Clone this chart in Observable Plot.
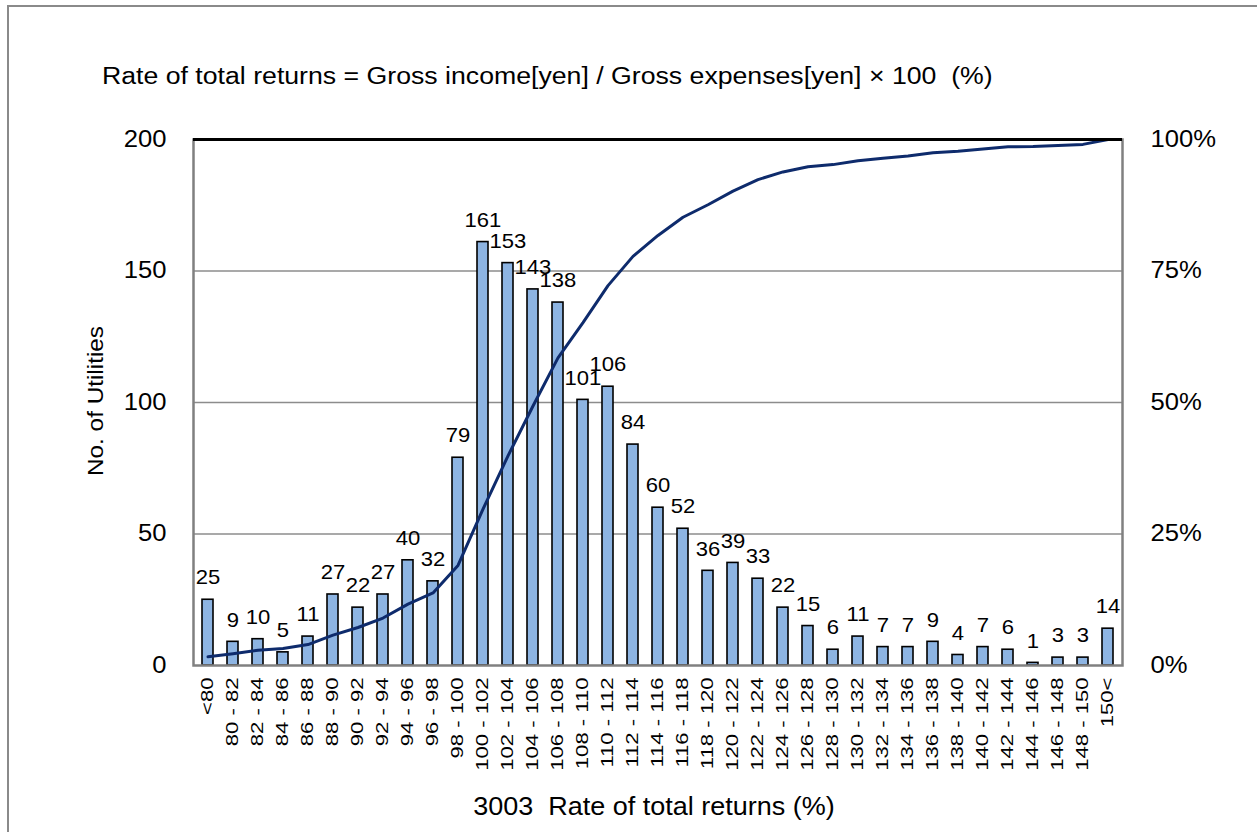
<!DOCTYPE html>
<html>
<head>
<meta charset="utf-8">
<script src="https://cdn.jsdelivr.net/npm/d3@7"></script>
<script src="https://cdn.jsdelivr.net/npm/@observablehq/plot@0.6"></script>
<style>
  html, body { margin: 0; padding: 0; background: #fff; }
  #wrap { position: relative; width: 1257px; height: 832px; overflow: hidden; font-family: "Liberation Sans", Arial, sans-serif; color: #000; }
  #border { position: absolute; left: 7px; top: 5px; width: 1300px; height: 900px; border-top: 2px solid #8a8a8a; border-left: 2px solid #8a8a8a; }
  #title { position: absolute; left: 102px; top: 64px; font-size: 24.7px; line-height: 1; white-space: nowrap; transform: scaleX(1.08); transform-origin: 0 0; }
  #ylabel { position: absolute; left: 96px; top: 401px; font-size: 22.5px; line-height: 1; white-space: nowrap; transform: translate(-50%, -50%) rotate(-90deg) scaleX(1.08); }
  #xlabel { position: absolute; left: 654px; top: 794px; font-size: 25px; line-height: 1; white-space: nowrap; transform: translateX(-50%) scaleX(1.08); }
  #chart { position: absolute; left: 0; top: 0; }
</style>
</head>
<body>
<div id="wrap">
  <div id="border"></div>
  <div id="chart"></div>
  <div id="title">Rate of total returns = Gross income[yen] / Gross expenses[yen] × 100&nbsp;&nbsp;(%)</div>
  <div id="ylabel">No. of Utilities</div>
  <div id="xlabel">3003&nbsp;&nbsp;Rate of total returns (%)</div>
</div>
<script>
const categories = ["<80","80 - 82","82 - 84","84 - 86","86 - 88","88 - 90","90 - 92","92 - 94","94 - 96","96 - 98",
  "98 - 100","100 - 102","102 - 104","104 - 106","106 - 108","108 - 110","110 - 112","112 - 114","114 - 116","116 - 118",
  "118 - 120","120 - 122","122 - 124","124 - 126","126 - 128","128 - 130","130 - 132","132 - 134","134 - 136","136 - 138",
  "138 - 140","140 - 142","142 - 144","144 - 146","146 - 148","148 - 150","150<"];
const counts = [25,9,10,5,11,27,22,27,40,32,79,161,153,143,138,101,106,84,60,52,36,39,33,22,15,6,11,7,7,9,4,7,6,1,3,3,14];
const leftTicks = [0,50,100,150,200];
const rightTickLabels = ["0%","25%","50%","75%","100%"];

const total = d3.sum(counts);
const cum = d3.cumsum(counts);
const data = categories.map((c, i) => ({cat: c, count: counts[i], cumPct: cum[i] / total * 100}));

const chart = Plot.plot({
  width: 1257,
  height: 832,
  marginTop: 139,
  marginBottom: 167,
  marginLeft: 193,
  marginRight: 135,
  style: {fontFamily: "Liberation Sans, Arial, sans-serif", background: "transparent", color: "#000"},
  x: {domain: categories, paddingInner: 0.58, paddingOuter: 0.29},
  y: {domain: [0, 200]},
  marks: [
    Plot.gridY([50, 100, 150], {stroke: "#8c8c8c", strokeOpacity: 1, strokeWidth: 1.5}),
    Plot.barY(data, {x: "cat", y: "count", fill: "#8db4e2", stroke: "#000", strokeWidth: 1.6}),
    Plot.line(data, {x: "cat", y: d => d.cumPct * 2, stroke: "#0e2b6c", strokeWidth: 3}),
    Plot.text(data, {x: "cat", y: "count", text: d => String(d.count), dy: -22, fontSize: 21, fill: "#000"}),
    Plot.frame({stroke: "#808080", strokeWidth: 2.5}),
    Plot.ruleY([200], {stroke: "#000", strokeWidth: 3}),
    Plot.axisY({anchor: "left", ticks: leftTicks, tickSize: 0, tickPadding: 27, fontSize: 23.3, label: null}),
    Plot.axisY({anchor: "right", ticks: leftTicks, tickFormat: d => rightTickLabels[leftTicks.indexOf(d)], tickSize: 0, tickPadding: 28, fontSize: 23.3, label: null}),
    Plot.axisX({tickRotate: -90, tickSize: 0, tickPadding: 12, fontSize: 17, label: null})
  ]
});

function stretch(svg, label, s) {
  svg.querySelectorAll(`g[aria-label="${label}"] text`).forEach(t => {
    const tr = t.getAttribute("transform");
    if (tr) {
      t.setAttribute("transform", tr + ` scale(${s},1)`);
    } else {
      const x = +(t.getAttribute("x") || 0), y = +(t.getAttribute("y") || 0);
      t.setAttribute("transform", `translate(${x},${y}) scale(${s},1) translate(${-x},${-y})`);
    }
  });
}
stretch(chart, "y-axis tick label", 1.1);
stretch(chart, "x-axis tick label", 1.3);
stretch(chart, "text", 1.05);
document.getElementById("chart").appendChild(chart);
</script>
</body>
</html>
